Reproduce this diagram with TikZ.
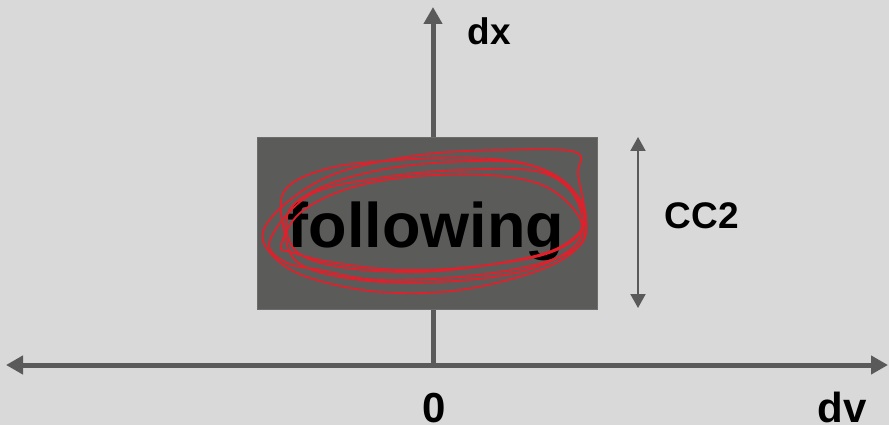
\documentclass[tikz,border=0pt]{standalone}
\usepackage{fontspec}
\setmainfont{Liberation Sans}
\usetikzlibrary{arrows.meta}
\definecolor{bg}{HTML}{D9D9D9}
\definecolor{axisgray}{HTML}{5A5A5A}
\definecolor{boxgray}{HTML}{5B5B5A}
\definecolor{scribble}{HTML}{E0202A}
\tikzset{
  axisline/.style={draw=axisgray, line width=5pt, -{Triangle[width=18pt,length=17pt]}},
  dimline/.style={draw=axisgray, line width=2pt, {Triangle[width=15pt,length=14pt]}-{Triangle[width=15pt,length=14pt]}},
  lbl/.style={font=\bfseries\fontsize{37}{37}\selectfont, inner sep=0pt, anchor=base},
  biglbl/.style={font=\bfseries\fontsize{42}{42}\selectfont, inner sep=0pt, anchor=base},
  bigtext/.style={font=\bfseries\fontsize{63}{63}\selectfont, inner sep=0pt, anchor=base},
  scrib/.style={draw=scribble, line width=1.8pt, line join=round, smooth cycle, tension=0.6},
  boxstyle/.style={fill=boxgray, draw=gray!85!black, line width=0.6pt, minimum width=340pt, minimum height=172pt, inner sep=0pt}
}
\begin{document}
\begin{tikzpicture}[x=1pt,y=-1pt]
\useasboundingbox (0,0) rectangle (889,425);
\fill[bg] (0,0) rectangle (889,425);
% axes
\coordinate (origin) at (433,365);
\coordinate (xleft) at (6,365);
\coordinate (xright) at (888,365);
\coordinate (ytop) at (433,7);
\draw[axisline] (origin) -- (ytop);
\draw[axisline] (origin) -- (xleft);
\draw[axisline] (origin) -- (xright);
% box
\node[boxstyle] (box) at (427,223) {};
\node[bigtext] (word) at (426,247) {following};
% scribbles
\draw[scrib] plot coordinates {(263,232) (290,200) (340,172) (420,155) (500,150) (575,152) (578,175) (585,215) (580,245) (540,270) (460,290) (380,292) (310,278) (275,258)};
\draw[scrib] plot coordinates {(285,190) (330,168) (400,160) (470,158) (530,165) (570,190) (583,225) (570,250) (520,272) (440,282) (360,280) (300,264) (284,230)};
\draw[scrib] plot coordinates {(288,213) (320,188) (380,170) (450,162) (520,163) (565,182) (586,218) (560,247) (500,263) (420,272) (340,267) (295,250)};
\draw[scrib] plot coordinates {(281,246) (300,213) (350,188) (420,176) (500,176) (552,190) (582,226) (552,252) (480,266) (400,270) (330,262) (291,252)};
\draw[scrib] plot coordinates {(270,240) (310,195) (380,178) (460,170) (540,172) (578,200) (584,240) (545,262) (470,276) (380,280) (320,270) (285,262)};
% dimension arrow
\coordinate (dimtop) at (638,137);
\coordinate (dimbot) at (638,308);
\draw[dimline] (dimtop) -- (dimbot);
% labels
\node[lbl] (dx) at (489.5,45) {dx};
\node[lbl] (cc) at (702,228) {CC2};
\node[biglbl] (zero) at (434,422) {0};
\node[biglbl] (dv) at (842,422) {dv};
\end{tikzpicture}
\end{document}
